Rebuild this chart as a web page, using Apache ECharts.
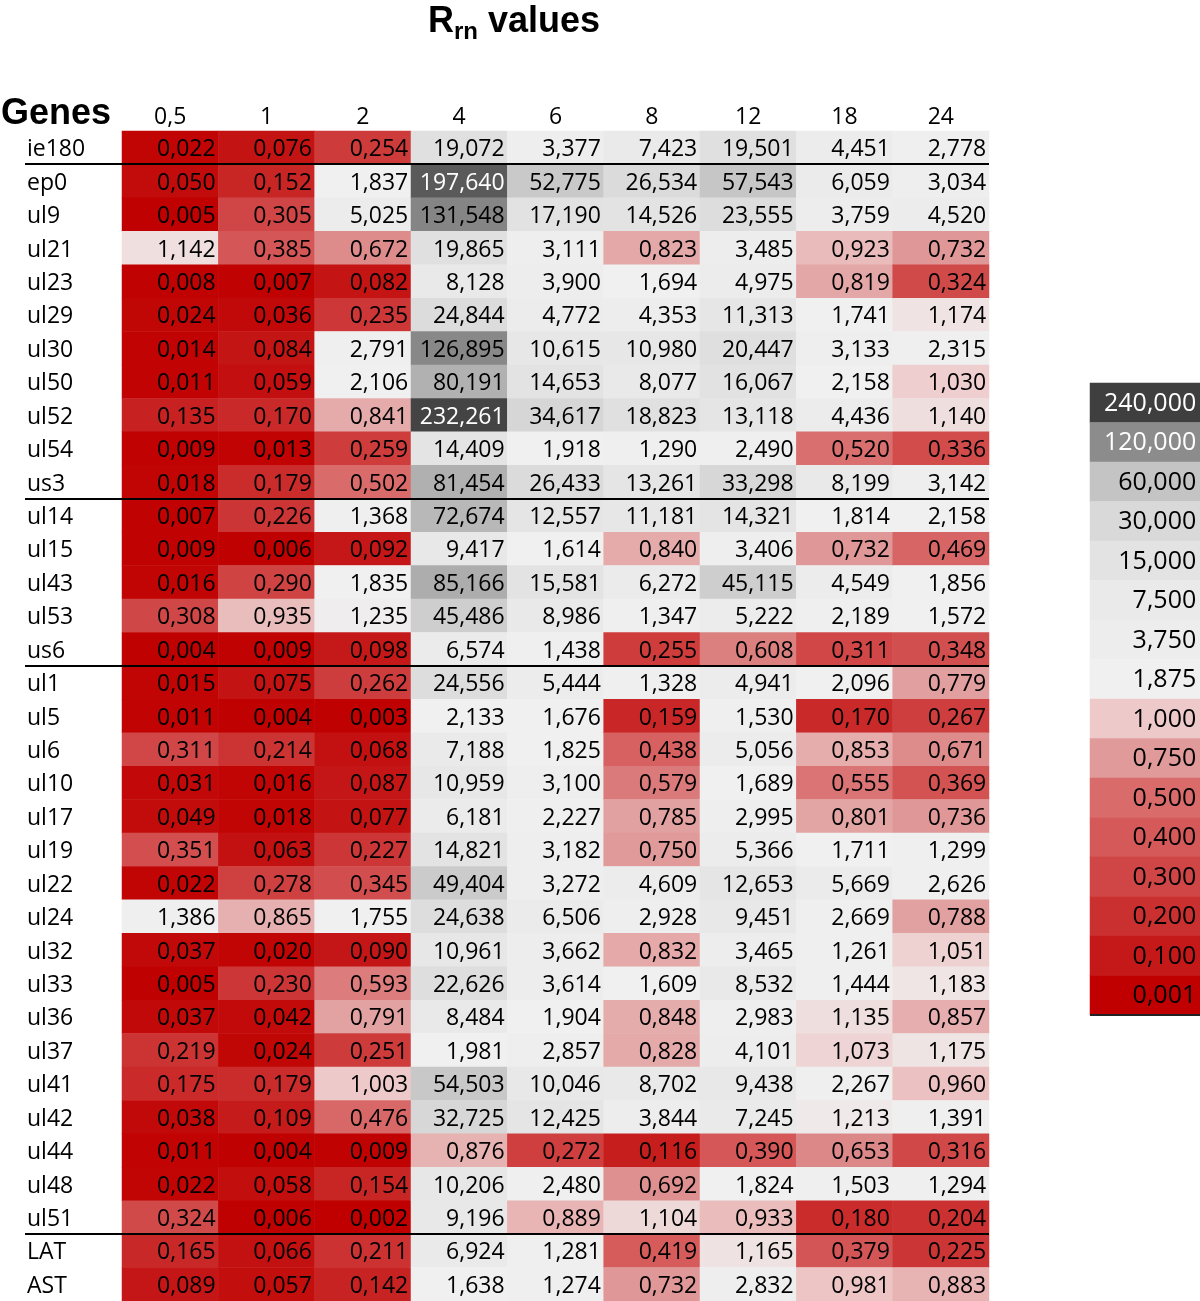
<!DOCTYPE html>
<html>
<head>
<meta charset="utf-8">
<title>Rrn values</title>
<script src="https://cdn.jsdelivr.net/npm/echarts@6/dist/echarts.min.js"></script>
<style>
  html, body { margin: 0; padding: 0; background: #fff; }
  #chart { width: 1200px; height: 1301px; }
</style>
</head>
<body>
<div id="chart"></div>
<script>
// rows, top to bottom
const genes = ['ie180', 'ep0', 'ul9', 'ul21', 'ul23', 'ul29', 'ul30', 'ul50', 'ul52', 'ul54', 'us3',
  'ul14', 'ul15', 'ul43', 'ul53', 'us6',
  'ul1', 'ul5', 'ul6', 'ul10', 'ul17', 'ul19', 'ul22', 'ul24', 'ul32', 'ul33', 'ul36', 'ul37', 'ul41', 'ul42', 'ul44', 'ul48', 'ul51',
  'LAT', 'AST']
const timepoints = ['0,5', '1', '2', '4', '6', '8', '12', '18', '24']

// Rrn values, one array per timepoint (same order as genes)
const t0_5 = [0.022, 0.050, 0.005, 1.142, 0.008, 0.024, 0.014, 0.011, 0.135, 0.009, 0.018,
  0.007, 0.009, 0.016, 0.308, 0.004,
  0.015, 0.011, 0.311, 0.031, 0.049, 0.351, 0.022, 1.386, 0.037, 0.005, 0.037, 0.219, 0.175, 0.038, 0.011, 0.022, 0.324,
  0.165, 0.089]
const t1 = [0.076, 0.152, 0.305, 0.385, 0.007, 0.036, 0.084, 0.059, 0.170, 0.013, 0.179,
  0.226, 0.006, 0.290, 0.935, 0.009,
  0.075, 0.004, 0.214, 0.016, 0.018, 0.063, 0.278, 0.865, 0.020, 0.230, 0.042, 0.024, 0.179, 0.109, 0.004, 0.058, 0.006,
  0.066, 0.057]
const t2 = [0.254, 1.837, 5.025, 0.672, 0.082, 0.235, 2.791, 2.106, 0.841, 0.259, 0.502,
  1.368, 0.092, 1.835, 1.235, 0.098,
  0.262, 0.003, 0.068, 0.087, 0.077, 0.227, 0.345, 1.755, 0.090, 0.593, 0.791, 0.251, 1.003, 0.476, 0.009, 0.154, 0.002,
  0.211, 0.142]
const t4 = [19.072, 197.640, 131.548, 19.865, 8.128, 24.844, 126.895, 80.191, 232.261, 14.409, 81.454,
  72.674, 9.417, 85.166, 45.486, 6.574,
  24.556, 2.133, 7.188, 10.959, 6.181, 14.821, 49.404, 24.638, 10.961, 22.626, 8.484, 1.981, 54.503, 32.725, 0.876, 10.206, 9.196,
  6.924, 1.638]
const t6 = [3.377, 52.775, 17.190, 3.111, 3.900, 4.772, 10.615, 14.653, 34.617, 1.918, 26.433,
  12.557, 1.614, 15.581, 8.986, 1.438,
  5.444, 1.676, 1.825, 3.100, 2.227, 3.182, 3.272, 6.506, 3.662, 3.614, 1.904, 2.857, 10.046, 12.425, 0.272, 2.480, 0.889,
  1.281, 1.274]
const t8 = [7.423, 26.534, 14.526, 0.823, 1.694, 4.353, 10.980, 8.077, 18.823, 1.290, 13.261,
  11.181, 0.840, 6.272, 1.347, 0.255,
  1.328, 0.159, 0.438, 0.579, 0.785, 0.750, 4.609, 2.928, 0.832, 1.609, 0.848, 0.828, 8.702, 3.844, 0.116, 0.692, 1.104,
  0.419, 0.732]
const t12 = [19.501, 57.543, 23.555, 3.485, 4.975, 11.313, 20.447, 16.067, 13.118, 2.490, 33.298,
  14.321, 3.406, 45.115, 5.222, 0.608,
  4.941, 1.530, 5.056, 1.689, 2.995, 5.366, 12.653, 9.451, 3.465, 8.532, 2.983, 4.101, 9.438, 7.245, 0.390, 1.824, 0.933,
  1.165, 2.832]
const t18 = [4.451, 6.059, 3.759, 0.923, 0.819, 1.741, 3.133, 2.158, 4.436, 0.520, 8.199,
  1.814, 0.732, 4.549, 2.189, 0.311,
  2.096, 0.170, 0.853, 0.555, 0.801, 1.711, 5.669, 2.669, 1.261, 1.444, 1.135, 1.073, 2.267, 1.213, 0.653, 1.503, 0.180,
  0.379, 0.981]
const t24 = [2.778, 3.034, 4.520, 0.732, 0.324, 1.174, 2.315, 1.030, 1.140, 0.336, 3.142,
  2.158, 0.469, 1.856, 1.572, 0.348,
  0.779, 0.267, 0.671, 0.369, 0.736, 1.299, 2.626, 0.788, 1.051, 1.183, 0.857, 1.175, 0.960, 1.391, 0.316, 1.294, 0.204,
  0.225, 0.883]

// last gene of each block (a rule is drawn under it)
const groupEnds = ['ie180', 'us3', 'us6', 'ul51']

// colour key, top to bottom
const legendValues = [240, 120, 60, 30, 15, 7.5, 3.75, 1.875, 1, 0.75, 0.5, 0.4, 0.3, 0.2, 0.1, 0.001]

// colour scale stops
const scaleStops = [0.001, 0.1, 0.2, 0.3, 0.4, 0.5, 0.75, 1, 1.25, 1.875, 3.75, 7.5, 15, 30, 60, 120, 240]
const scaleColors = ['#c00000', '#c51919', '#cb3030', '#d04545', '#d55959', '#d96b6b', '#e09a9a', '#eec9c9',
  '#efefef', '#f0f0f0', '#ededed', '#eaeaea', '#e3e3e3', '#d9d9d9', '#c4c4c4', '#8c8c8c', '#3f3f3f']

const columns = [t0_5, t1, t2, t4, t6, t8, t12, t18, t24]
const FONT = '"Open Sans", sans-serif'
const TITLE_FONT = '"Liberation Sans", Arial, sans-serif'

// position of a value on the stop list (piecewise linear)
function scalePos(v) {
  if (v <= scaleStops[0]) return 0
  for (let i = 0; i < scaleStops.length - 1; i++) {
    if (v <= scaleStops[i + 1]) {
      return i + (v - scaleStops[i]) / (scaleStops[i + 1] - scaleStops[i])
    }
  }
  return scaleStops.length - 1
}

function fmt(v) {
  return v.toFixed(3).replace('.', ',')
}

const cells = []
columns.forEach((col, x) => {
  col.forEach((v, y) => {
    cells.push([x, y, v, scalePos(v)])
  })
})
const keyCells = legendValues.map((v, i) => [0, i, v, scalePos(v)])

const chart = echarts.init(document.getElementById('chart'))

chart.setOption({
  backgroundColor: '#fff',
  animation: false,
  title: [{
    text: '{r|R}{s|rn}{r| values}',
    left: 428,
    top: 0,
    padding: 0,
    textStyle: {
      rich: {
        r: { fontFamily: TITLE_FONT, fontWeight: 'bold', fontSize: 36, lineHeight: 44, color: '#000' },
        s: { fontFamily: TITLE_FONT, fontWeight: 'bold', fontSize: 24, lineHeight: 20, verticalAlign: 'bottom', color: '#000' }
      }
    }
  }, {
    text: 'Genes',
    left: 1,
    top: 94,
    padding: 0,
    textStyle: {
      fontFamily: TITLE_FONT,
      fontWeight: 'bold',
      fontSize: 36,
      lineHeight: 40,
      color: '#000'
    }
  }],
  grid: [
    { left: 122, top: 131, width: 867, height: 1170, outerBoundsMode: 'none', containLabel: false },
    { left: 1090, top: 383, width: 110, height: 632, outerBoundsMode: 'none', containLabel: false }
  ],
  xAxis: [{
    type: 'category',
    gridIndex: 0,
    position: 'top',
    data: timepoints,
    axisLine: { show: false },
    axisTick: { show: false },
    splitLine: { show: false },
    axisLabel: { fontFamily: FONT, fontSize: 23, color: '#000', margin: 2, interval: 0 }
  }, {
    type: 'category',
    gridIndex: 1,
    data: [''],
    show: false
  }],
  yAxis: [{
    type: 'category',
    gridIndex: 0,
    inverse: true,
    data: genes,
    axisLine: { show: false },
    axisTick: { show: false },
    splitLine: { show: false },
    axisLabel: {
      align: 'left',
      margin: 95,
      interval: 0,
      formatter: g => '{g|' + g + '}',
      rich: {
        g: { fontFamily: FONT, fontSize: 23, lineHeight: 23, color: '#000', padding: [4, 0, 0, 0] }
      }
    }
  }, {
    type: 'category',
    gridIndex: 1,
    inverse: true,
    data: legendValues.map(fmt),
    show: false
  }],
  visualMap: {
    show: false,
    type: 'continuous',
    seriesIndex: [0, 1],
    dimension: 3,
    min: 0,
    max: scaleStops.length - 1,
    inRange: { color: scaleColors }
  },
  series: [{
    type: 'heatmap',
    xAxisIndex: 0,
    yAxisIndex: 0,
    data: cells.map(c => c[2] > 150
      ? { value: c, label: { color: '#fff' } } // white text on the darkest cells
      : { value: c }),
    label: {
      show: true,
      position: 'insideRight',
      distance: 3,
      offset: [0, 2],
      fontFamily: FONT,
      fontSize: 23,
      color: '#000',
      formatter: p => fmt(p.value[2])
    },
    itemStyle: { borderWidth: 0 },
    emphasis: { disabled: true }
  }, {
    type: 'heatmap',
    xAxisIndex: 1,
    yAxisIndex: 1,
    data: keyCells.map(c => c[2] >= 120
      ? { value: c, label: { color: '#fff' } }
      : { value: c }),
    label: {
      show: true,
      position: 'insideRight',
      distance: 4,
      offset: [0, 1],
      fontFamily: FONT,
      fontSize: 25,
      color: '#000',
      formatter: p => fmt(p.value[2])
    },
    itemStyle: { borderWidth: 0 },
    emphasis: { disabled: true }
  }]
})

// block separators and the rule under the key
const rules = []
const rowY = g => chart.convertToPixel({ gridIndex: 0 }, [0, g])[1]
const band = rowY(genes[1]) - rowY(genes[0])
const colX = i => chart.convertToPixel({ gridIndex: 0 }, [i, 0])[0]
const rightX = colX(timepoints.length - 1) + (colX(1) - colX(0)) / 2
groupEnds.forEach(g => {
  const y = Math.round(rowY(g) + band / 2)
  rules.push({
    type: 'line',
    shape: { x1: 25, y1: y, x2: rightX, y2: y },
    style: { stroke: '#000', lineWidth: 2 },
    z: 10
  })
})
const keyY = i => chart.convertToPixel({ xAxisIndex: 1, yAxisIndex: 1 }, [0, i])[1]
const keyBand = keyY(1) - keyY(0)
const keyBottom = Math.round(keyY(legendValues.length - 1) + keyBand / 2)
rules.push({
  type: 'line',
  shape: { x1: 1090, y1: keyBottom, x2: 1200, y2: keyBottom },
  style: { stroke: '#222', lineWidth: 2 },
  z: 10
})
chart.setOption({ graphic: rules })
</script>
</body>
</html>
